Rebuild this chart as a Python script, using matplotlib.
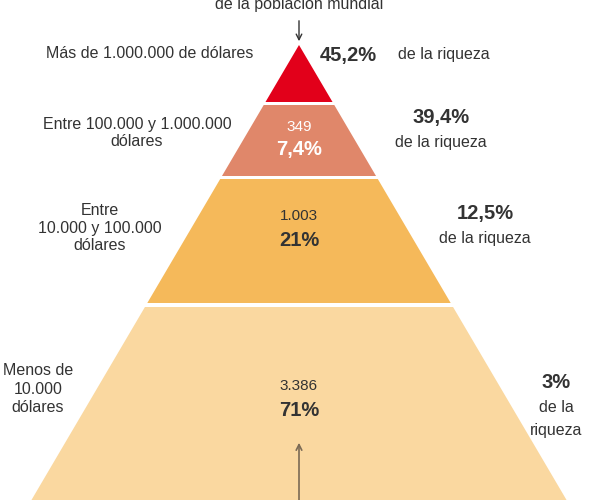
import matplotlib
matplotlib.use("Agg")
import matplotlib.pyplot as plt
from matplotlib.patches import Polygon

plt.rcParams['font.family'] = ['Liberation Sans', 'DejaVu Sans']

tiers_left = ["Más de 1.000.000 de dólares", "Entre 100.000 y 1.000.000\ndólares",
              "Entre\n10.000 y 100.000\ndólares", "Menos de\n10.000\ndólares"]
people = ["", "349", "1.003", "3.386"]
pop_pct = ["", "7,4%", "21%", "71%"]
wealth_pct = ["45,2%", "39,4%", "12,5%", "3%"]
colors = ["#e2001a", "#e0876a", "#f5b95a", "#fad8a0"]

fig = plt.figure(figsize=(6, 5), dpi=100)
ax = fig.add_axes([0, 0, 1, 1])
ax.set_xlim(0, 600); ax.set_ylim(500, 0); ax.axis("off")

apex_x, apex_y, slope = 299, 45, 0.588
bounds = [(45, 102), (105, 176), (179, 303), (307, 520)]
def hw(y): return (y - apex_y) * slope
for (t, b), c in zip(bounds, colors):
    pts = [(apex_x - hw(t), t), (apex_x + hw(t), t), (apex_x + hw(b), b), (apex_x - hw(b), b)]
    ax.add_patch(Polygon(pts, closed=True, color=c, lw=0))

dark = "#333333"
fs = 11.5
ax.text(299, 5, "de la población mundial", ha="center", va="center", fontsize=fs, color=dark)
ax.annotate("", xy=(299, 44), xytext=(299, 18), arrowprops=dict(arrowstyle="->", color=dark, lw=1))
ax.annotate("", xy=(299, 440), xytext=(299, 505), arrowprops=dict(arrowstyle="->", color="#7a6a55", lw=1.2))

ax.text(150, 53, tiers_left[0], ha="center", va="center", fontsize=fs, color=dark)
ax.text(137, 133, tiers_left[1], ha="center", va="center", fontsize=fs, color=dark, linespacing=1.2)
ax.text(100, 228, tiers_left[2], ha="center", va="center", fontsize=fs, color=dark, linespacing=1.2)
ax.text(38, 389, tiers_left[3], ha="center", va="center", fontsize=fs, color=dark, linespacing=1.3)

for y1, y2, p, q, col in [(127, 150, people[1], pop_pct[1], "white"),
                          (216, 241, people[2], pop_pct[2], dark),
                          (386, 410, people[3], pop_pct[3], dark)]:
    ax.text(299, y1, p, ha="center", va="center", fontsize=11, color=col)
    ax.text(299, y2, q, ha="center", va="center", fontsize=14.5, fontweight="bold", color=col)

bf = 14.5
ax.text(320, 55, wealth_pct[0], ha="left", va="center", fontsize=bf, fontweight="bold", color=dark)
ax.text(398, 55, "de la riqueza", ha="left", va="center", fontsize=fs, color=dark)
ax.text(441, 117, wealth_pct[1], ha="center", va="center", fontsize=bf, fontweight="bold", color=dark)
ax.text(441, 142, "de la riqueza", ha="center", va="center", fontsize=fs, color=dark)
ax.text(485, 214, wealth_pct[2], ha="center", va="center", fontsize=bf, fontweight="bold", color=dark)
ax.text(485, 239, "de la riqueza", ha="center", va="center", fontsize=fs, color=dark)
ax.text(556, 383, wealth_pct[3], ha="center", va="center", fontsize=bf, fontweight="bold", color=dark)
ax.text(556, 408, "de la", ha="center", va="center", fontsize=fs, color=dark)
ax.text(556, 430, "riqueza", ha="center", va="center", fontsize=fs, color=dark)

fig.savefig("out.png", dpi=100, facecolor="white")
